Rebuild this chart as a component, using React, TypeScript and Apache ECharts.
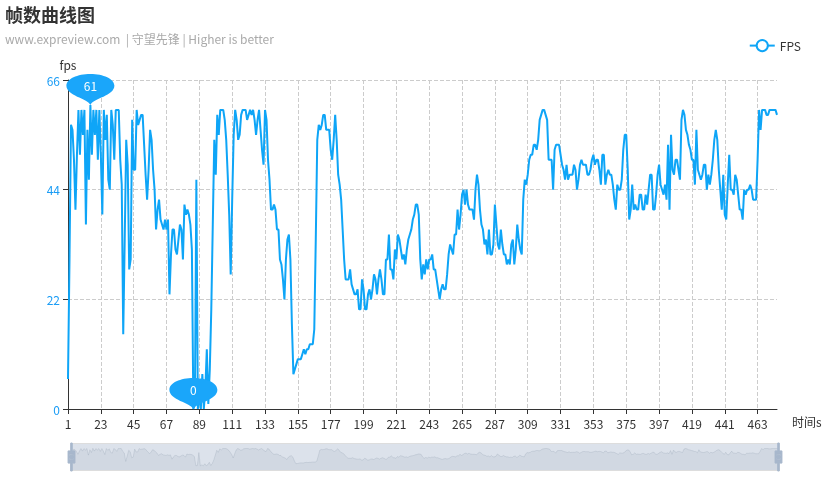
import React, { useEffect, useRef } from "react";
import * as echarts from "echarts";

const fps: number[] = [
  6, 30, 57, 56, 50, 40, 51, 60, 51, 60,
  55, 60, 37, 56, 46, 61, 51, 60, 55, 60,
  50, 60, 51, 39, 60, 54, 59, 46, 44, 60,
  57, 50, 60, 60, 60, 50, 45, 15, 34, 54,
  49, 28, 30, 58, 48, 48, 60, 57, 58, 59,
  59, 53, 47, 42, 48, 56, 54, 48, 44, 36,
  40, 42, 38, 37, 36, 38, 36, 38, 23, 31,
  36, 36, 32, 31, 34, 37, 36, 30, 41, 39,
  40, 39, 37, 32, 0, 1, 46, 0, 3, 0,
  7, 0, 4, 12, 1, 8, 20, 37, 54, 47,
  59, 55, 60, 60, 60, 58, 54, 47, 39, 27,
  42, 55, 60, 58, 54, 55, 59, 60, 60, 60,
  58, 59, 60, 59, 60, 58, 55, 58, 60, 56,
  52, 49, 60, 58, 50, 46, 40, 40, 41, 40,
  36, 36, 30, 29, 26, 22, 30, 34, 35, 30,
  17, 7, 8, 9, 10, 10, 10, 11, 12, 11,
  12, 12, 13, 13, 13, 16, 34, 54, 57, 56,
  57, 59, 59, 56, 56, 56, 52, 50, 54, 59,
  54, 47, 45, 42, 36, 30, 26, 26, 26, 28,
  25, 24, 23, 23, 24, 20, 20, 26, 24, 20,
  20, 23, 24, 22, 24, 27, 26, 23, 26, 28,
  26, 23, 23, 30, 30, 35, 28, 28, 26, 32,
  30, 35, 34, 32, 30, 31, 29, 32, 34, 35,
  36, 38, 39, 41, 41, 39, 30, 26, 29, 27,
  30, 28, 30, 30, 31, 28, 28, 26, 24, 22,
  24, 25, 24, 24, 27, 31, 33, 32, 31, 35,
  35, 40, 36, 39, 43, 44, 41, 44, 41, 40,
  40, 40, 38, 44, 47, 45, 40, 37, 36, 33,
  34, 31, 36, 31, 31, 33, 41, 37, 33, 32,
  36, 33, 31, 31, 29, 30, 29, 33, 34, 29,
  32, 37, 34, 32, 31, 42, 46, 45, 47, 50,
  51, 51, 53, 53, 52, 54, 58, 59, 60, 60,
  59, 58, 50, 50, 50, 44, 52, 53, 53, 53,
  51, 49, 48, 46, 49, 46, 47, 47, 47, 49,
  48, 44, 46, 49, 50, 49, 49, 49, 47, 47,
  48, 50, 51, 49, 50, 50, 48, 45, 51, 51,
  45, 47, 48, 47, 47, 45, 42, 40, 45, 44,
  44, 46, 52, 55, 55, 48, 38, 40, 45, 40,
  41, 40, 40, 43, 43, 40, 40, 43, 41, 44,
  47, 47, 40, 40, 43, 47, 49, 45, 44, 43,
  45, 42, 53, 40, 55, 48, 47, 50, 50, 48,
  46, 58, 60, 59, 56, 55, 53, 52, 50, 50,
  45, 56, 48, 47, 46, 47, 49, 49, 44, 47,
  45, 47, 50, 54, 56, 54, 48, 44, 40, 47,
  39, 38, 45, 51, 44, 44, 43, 47, 46, 43,
  40, 40, 38, 44, 43, 44, 44, 45, 44, 42,
  42, 42, 50, 60, 56, 60, 60, 60, 59, 59,
  60, 60, 60, 60, 60, 59,
];

const times: string[] = fps.map((_, i) => String(i + 1));

const yTicks = { min: 0, max: 66, interval: 22 };

const FONT = '"Microsoft YaHei", "Noto Sans CJK SC", sans-serif';
const LINE_COLOR = "#0ea5f7";
const PIN_PATH =
  "path://M24,32 C21,25 0,23 0,12 C0,5 11,0 24,0 C37,0 48,5 48,12 C48,23 27,25 24,32 Z";

export default function App() {
  const ref = useRef<HTMLDivElement>(null);
  useEffect(() => {
    if (!ref.current) return;
    const chart = echarts.init(ref.current, null, { renderer: "svg" });
    chart.setOption({
      animation: false,
      textStyle: { fontFamily: FONT },
      title: {
        text: "帧数曲线图",
        subtext: "www.expreview.com  | 守望先锋 | Higher is better",
        left: 0,
        top: 0,
        padding: 5,
        itemGap: 10,
        textStyle: { fontSize: 18, fontWeight: "bold", color: "#333", fontFamily: FONT },
        subtextStyle: { fontSize: 12, color: "#aaa", fontFamily: FONT },
      },
      legend: {
        data: ["FPS"],
        right: 31,
        top: 34,
        itemWidth: 25,
        itemHeight: 14,
        textStyle: { color: "#333", fontSize: 12, fontFamily: FONT },
      },
      grid: { left: 68, right: 60, top: 80, bottom: 71, containLabel: false },
      xAxis: {
        type: "category",
        data: times,
        boundaryGap: false,
        name: "时间s",
        nameGap: 15,
        nameTextStyle: { color: "#333", fontSize: 12, verticalAlign: "top", padding: [6, 0, 0, 0] },
        axisLine: { show: true, lineStyle: { color: "#333", width: 1 } },
        axisTick: { show: true, interval: 21, lineStyle: { color: "#333" } },
        axisLabel: { interval: 21, color: "#333", fontSize: 12, margin: 8 },
        splitLine: { show: true, interval: 21, lineStyle: { type: "dashed", color: "#ccc" } },
      },
      yAxis: {
        type: "value",
        name: "fps",
        nameGap: 10,
        nameTextStyle: { color: "#333", fontSize: 12 },
        min: yTicks.min,
        max: yTicks.max,
        interval: yTicks.interval,
        axisLine: { show: true, lineStyle: { color: "#333", width: 1 } },
        axisTick: { show: true, lineStyle: { color: "#333" } },
        axisLabel: { color: "#1a9cf5", fontSize: 12, margin: 8 },
        splitLine: { show: true, lineStyle: { type: "dashed", color: "#ccc" } },
      },
      dataZoom: [
        {
          type: "slider",
          start: 0,
          end: 100,
          left: 68,
          right: 60,
          top: 443,
          height: 28,
          showDetail: false,
          brushSelect: false,
          moveHandleSize: 0,
          backgroundColor: "rgba(47,69,84,0)",
          borderColor: "#ddd",
          fillerColor: "rgba(167,183,204,0.4)",
          dataBackground: {
            lineStyle: { color: "#2f4554", width: 0.5, opacity: 0.3 },
            areaStyle: { color: "rgba(47,69,84,0.3)", opacity: 0.3 },
          },
          selectedDataBackground: {
            lineStyle: { color: "#2f4554", width: 0.5, opacity: 0.3 },
            areaStyle: { color: "rgba(47,69,84,0.3)", opacity: 0.3 },
          },
          handleIcon:
            "path://M8.2,13.6V3.9H6.3v9.7H3.1v14.9h3.3v9.7h1.8v-9.7h3.3V13.6H8.2z M9.7,24.4H4.8v-1.4h4.9V24.4z M9.7,19.1H4.8v-1.4h4.9V19.1z",
          handleSize: "100%",
          handleStyle: { color: "#a7b7cc", borderColor: "#a7b7cc" },
          emphasis: { handleStyle: { color: "#a7b7cc", borderColor: "#a7b7cc" } },
        },
      ],
      series: [
        {
          name: "FPS",
          type: "line",
          data: fps,
          symbol: "emptyCircle",
          symbolSize: 8,
          showSymbol: false,
          lineStyle: { width: 2, color: LINE_COLOR },
          itemStyle: { color: LINE_COLOR },
          markPoint: {
            symbol: PIN_PATH,
            symbolSize: [48, 31],
            symbolOffset: [0, "-50%"],
            symbolKeepAspect: false,
            itemStyle: { color: "#1aa6fa" },
            label: { color: "#fff", fontSize: 12, offset: [0, -4] },
            data: [
              { type: "max", name: "最大值" },
              { type: "min", name: "最小值" },
            ],
          },
        },
      ],
    });
    return () => chart.dispose();
  }, []);
  return (
    <div
      ref={ref}
      style={{ position: "fixed", left: 0, top: 0, width: 837, height: 480 }}
    />
  );
}
